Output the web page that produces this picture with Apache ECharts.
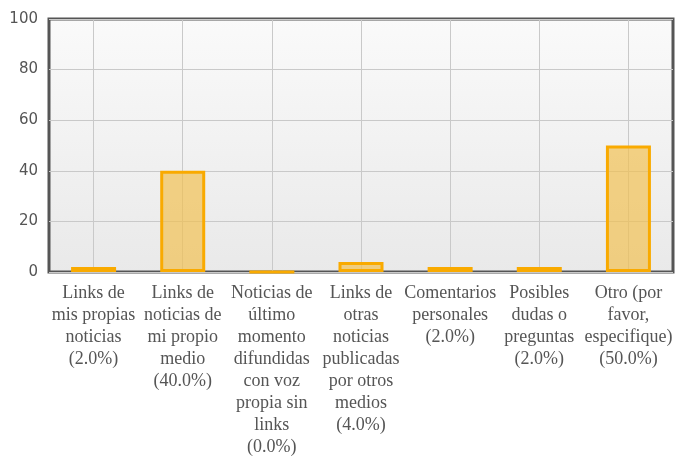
<!DOCTYPE html>
<html>
<head>
<meta charset="utf-8">
<script src="https://cdn.jsdelivr.net/npm/echarts@6/dist/echarts.min.js"></script>
<style>
  html, body { margin: 0; padding: 0; background: #fff; }
  #chart { width: 682px; height: 458px; }
</style>
</head>
<body>
<div id="chart"></div>
<script>
// categories (labels as shown under the bars) and values in percent
var categories = [
  'Links de\nmis propias\nnoticias\n(2.0%)',
  'Links de\nnoticias de\nmi propio\nmedio\n(40.0%)',
  'Noticias de\núltimo\nmomento\ndifundidas\ncon voz\npropia sin\nlinks\n(0.0%)',
  'Links de\notras\nnoticias\npublicadas\npor otros\nmedios\n(4.0%)',
  'Comentarios\npersonales\n(2.0%)',
  'Posibles\ndudas o\npreguntas\n(2.0%)',
  'Otro (por\nfavor,\nespecifique)\n(50.0%)'
];
var values = [2, 40, 0, 4, 2, 2, 50];

var chart = echarts.init(document.getElementById('chart'));

var option = {
  animation: false,
  backgroundColor: '#fff',
  grid: {
    left: 49,
    top: 19,
    right: 9,
    bottom: 186,
    show: true,
    borderColor: '#555',
    borderWidth: 3,
    backgroundColor: new echarts.graphic.LinearGradient(0, 0, 0, 1, [
      { offset: 0, color: '#fafafa' },
      { offset: 1, color: '#e9e9e9' }
    ])
  },
  xAxis: {
    type: 'category',
    data: categories,
    boundaryGap: true,
    axisLine: { show: false },
    axisTick: { show: false },
    splitLine: {
      show: true,
      alignWithLabel: true,
      lineStyle: { color: '#c9c9c9', width: 1 }
    },
    axisLabel: {
      interval: 0,
      margin: 10,
      color: '#555',
      fontFamily: 'Liberation Serif',
      fontSize: 18,
      lineHeight: 22,
      align: 'center'
    }
  },
  yAxis: {
    type: 'value',
    min: 0,
    max: 100,
    interval: 20,
    axisLine: { show: false },
    axisTick: { show: false },
    splitLine: { lineStyle: { color: '#c9c9c9', width: 1 } },
    axisLabel: {
      margin: 11,
      color: '#555',
      fontFamily: 'DejaVu Sans',
      fontSize: 15
    }
  },
  series: [{
    type: 'bar',
    data: values,
    barWidth: 45,
    itemStyle: {
      color: 'rgba(242, 192, 78, 0.68)',
      borderColor: '#f9aa00',
      borderWidth: 3
    }
  }]
};

chart.setOption(option);
</script>
</body>
</html>
